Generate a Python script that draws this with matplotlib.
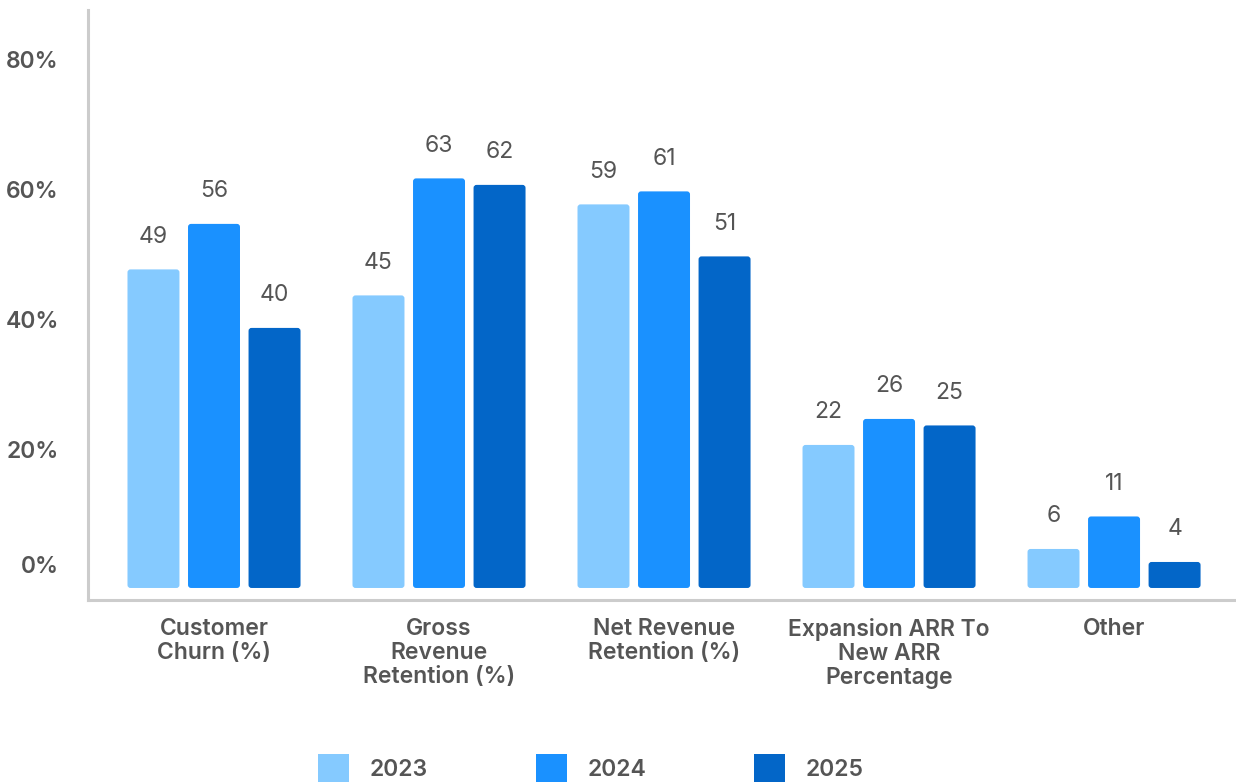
import matplotlib
matplotlib.use("Agg")
import matplotlib.pyplot as plt
import matplotlib.transforms as mtransforms
from matplotlib.patches import Patch, FancyBboxPatch
import numpy as np

# --- data -------------------------------------------------------------
categories = [
    "Customer\nChurn (%)",
    "Gross\nRevenue\nRetention (%)",
    "Net Revenue\nRetention (%)",
    "Expansion ARR To\nNew ARR\nPercentage",
    "Other",
]
years = ["2023", "2024", "2025"]
values_2023 = [49, 45, 59, 22, 6]
values_2024 = [56, 63, 61, 26, 11]
values_2025 = [40, 62, 51, 25, 4]
ytick_values = [0, 20, 40, 60, 80]
ytick_labels = ["0%", "20%", "40%", "60%", "80%"]

series = [values_2023, values_2024, values_2025]
colors = ["#85CAFF", "#1A91FF", "#0366C8"]
text_color = "#555555"
spine_color = "#CCCCCC"
FONT = "Inter"
FS = 16.5
LABEL_WEIGHT = 600

plt.rcParams["font.family"] = [FONT, "DejaVu Sans"]

W, H, DPI = 1236, 784, 100
fig = plt.figure(figsize=(W / DPI, H / DPI), dpi=DPI)

# axes placed in pixel terms
ax_left, ax_right = 88, 1236
ax_top, ax_bottom = 10, 600
ax = fig.add_axes([ax_left / W, 1 - ax_bottom / H,
                   (ax_right - ax_left) / W, (ax_bottom - ax_top) / H])

# scale: bars start slightly above the axis line
xmin, xmax = -0.56, 4.542
ymin, ymax = -1.85, 88.9
ax.set_xlim(xmin, xmax)
ax.set_ylim(ymin, ymax)

ax_w_px = ax_right - ax_left
ax_h_px = ax_bottom - ax_top
radius_px = 3.0
rx = radius_px * (xmax - xmin) / ax_w_px
ry = radius_px * (ymax - ymin) / ax_h_px

x = np.arange(len(categories))
bar_w = 0.231
step = 0.269
for i, (vals, col, yr) in enumerate(zip(series, colors, years)):
    xs = x + (i - 1) * step
    bars = ax.bar(xs, vals, width=bar_w, color=col, linewidth=0, label=yr)
    for rect, v in zip(bars, vals):
        # swap the square bar for one with softly rounded corners
        rect.set_visible(False)
        rounded = FancyBboxPatch(
            (rect.get_x(), rect.get_y()), rect.get_width(), rect.get_height(),
            boxstyle=f"round,pad=0,rounding_size={rx}",
            mutation_aspect=ry / rx, facecolor=col, edgecolor="none")
        ax.add_patch(rounded)
        ax.annotate(str(v),
                    xy=(rect.get_x() + rect.get_width() / 2, rect.get_height()),
                    xytext=(0, 23.5), textcoords="offset points",
                    ha="center", va="center", fontsize=FS, weight=400,
                    color=text_color)

ax.set_yticks(ytick_values)
ax.set_yticklabels(ytick_labels)
ax.set_xticks(x)
ax.set_xticklabels(categories, linespacing=1.12)

ax.tick_params(axis="y", length=0, pad=21, labelsize=FS, labelcolor=text_color)
ax.tick_params(axis="x", length=0, pad=13, labelsize=FS, labelcolor=text_color)
for lbl in ax.get_yticklabels() + ax.get_xticklabels():
    lbl.set_fontweight(LABEL_WEIGHT)
# y labels sit a little above their gridline; the zero label a bit more
for k, lbl in enumerate(ax.get_yticklabels()):
    lift = 0.23 if k == 0 else 0.08
    lbl.set_transform(lbl.get_transform()
                      + mtransforms.ScaledTranslation(0, lift, fig.dpi_scale_trans))

for side in ("top", "right"):
    ax.spines[side].set_visible(False)
for side in ("left", "bottom"):
    ax.spines[side].set_color(spine_color)
    ax.spines[side].set_linewidth(2.2)

handles = [Patch(facecolor=c, edgecolor="none") for c in colors]
leg = fig.legend(handles, years, loc="center", bbox_to_anchor=(591 / W, 1 - 768 / H),
                 ncol=3, frameon=False, fontsize=FS, labelcolor=text_color,
                 handlelength=1.35, handleheight=1.45, handletextpad=0.9,
                 columnspacing=4.7)
for t in leg.get_texts():
    t.set_fontweight(LABEL_WEIGHT)

fig.savefig("out.png", dpi=DPI)
